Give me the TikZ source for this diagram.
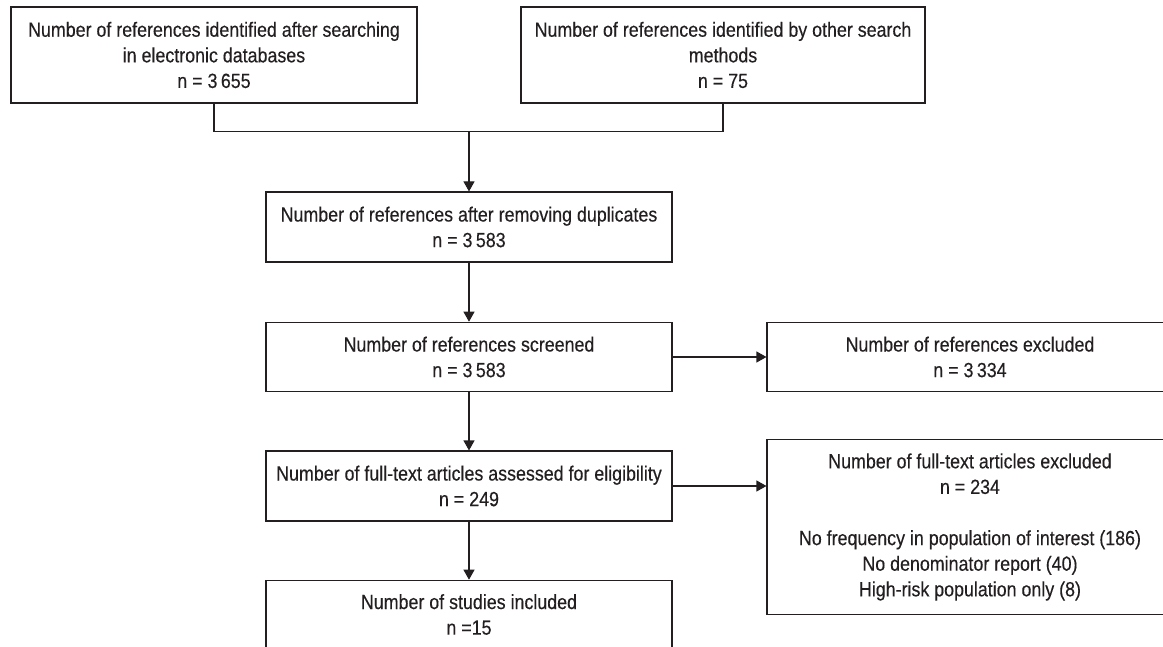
\documentclass[tikz,border=0pt]{standalone}
\usepackage{fontspec}
\setmainfont{Liberation Sans}[FakeStretch=0.87,FakeBold=0.3]
\usetikzlibrary{arrows.meta}
\definecolor{ink}{HTML}{231F20}
\begin{document}
\begin{tikzpicture}[x=1pt,y=-1pt,
  box/.style={draw=ink, line width=1.1pt, text=ink, align=center, inner sep=0pt,
    font=\fontsize{20.5}{25.6}\selectfont},
  conn/.style={draw=ink, line width=1.1pt},
  arr/.style={conn, -{Triangle[length=10pt,width=11pt]}}]
\path[use as bounding box] (0,0) rectangle (1163,647);
\clip (0,0) rectangle (1163,647);
% boxes
\node[box, minimum width=406pt, minimum height=96pt] (b1) at (214,55)
  {Number of references identified after searching\\in electronic databases\\n = 3\,655};
\node[box, minimum width=404pt, minimum height=96pt] (b2) at (723,55)
  {Number of references identified by other search\\methods\\n = 75};
\node[box, minimum width=406pt, minimum height=70pt] (b3) at (469,227)
  {Number of references after removing duplicates\\n = 3\,583};
\node[box, minimum width=406pt, minimum height=69.5pt] (b4) at (469,357)
  {Number of references screened\\n = 3\,583};
\node[box, minimum width=406pt, minimum height=69.5pt] (b5) at (970,357)
  {Number of references excluded\\n = 3\,334};
\node[box, minimum width=406pt, minimum height=70pt] (b6) at (469,486)
  {Number of full-text articles assessed for eligibility\\n = 249};
\node[box, minimum width=406pt, minimum height=174.5pt] (b7) at (970,527)
  {Number of full-text articles excluded\\n = 234\\[25.6pt]No frequency in population of interest (186)\\No denominator report (40)\\High-risk population only (8)};
\node[box, minimum width=406pt, minimum height=68.5pt] (b8) at (469,614.5)
  {Number of studies included\\n =15};
% connectors
\coordinate (join) at (469,131.5);
\draw[conn] (b1.south) |- (join) -| (b2.south);
\draw[arr] (join) -- (b3.north);
\draw[arr] (b3.south) -- (b4.north);
\draw[arr] (b4.south) -- (b6.north);
\draw[arr] (b6.south) -- (b8.north);
\draw[arr] (b4.east) -- (b5.west);
\draw[arr] (b6.east) -- (b6.east -| b7.west);
\end{tikzpicture}
\end{document}
